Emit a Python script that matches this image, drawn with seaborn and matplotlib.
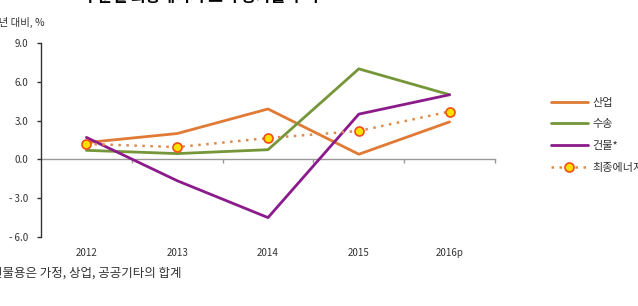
import pandas as pd
import numpy as np
import matplotlib
matplotlib.use("Agg")
import matplotlib.pyplot as plt
import seaborn as sns

years = ["2012", "2013", "2014", "2015", "2016p"]
industry = [1.3, 2.0, 3.9, 0.4, 2.9]
transport = [0.7, 0.45, 0.75, 7.0, 5.0]
building = [1.7, -1.65, -4.5, 3.5, 5.0]
final_energy = [1.2, 0.95, 1.65, 2.2, 3.7]

series_names = ["산업", "수송", "건물*", "최종에너지"]

sns.set_style("white")
plt.rcParams['font.family'] = ['Noto Sans CJK KR', 'DejaVu Sans']

df = pd.DataFrame({"pos": range(len(years)), "산업": industry, "수송": transport,
                   "건물*": building, "최종에너지": final_energy})

fig = plt.figure(figsize=(6.38, 3.06), dpi=100)
ax = fig.add_axes([41/638, 1-237/306, 454/638, 194/306])

sns.lineplot(data=df, x="pos", y="산업", ax=ax, color="#E07A35", lw=2, label="산업")
sns.lineplot(data=df, x="pos", y="수송", ax=ax, color="#76963A", lw=2, label="수송")
sns.lineplot(data=df, x="pos", y="건물*", ax=ax, color="#8B1A8B", lw=2, label="건물*")
sns.lineplot(data=df, x="pos", y="최종에너지", ax=ax, color="#E08A45", lw=1.8,
             linestyle=(0, (1, 2.2)), marker="o", markersize=6.5,
             markerfacecolor="#FFE000", markeredgecolor="#F04E14", markeredgewidth=1.2,
             label="최종에너지")

ax.set_xlim(-0.5, 4.5)
ax.set_ylim(-6, 9)
ax.set_yticks([9, 6, 3, 0, -3, -6])
ax.set_yticklabels(["9.0", "6.0", "3.0", "0.0", "- 3.0", "- 6.0"], fontsize=7, color="#333333")
ax.set_xticks(range(len(years)))
ax.set_xticklabels(years, fontsize=7, color="#333333")
ax.tick_params(axis="x", length=0, pad=8)
ax.tick_params(axis="y", length=3, width=1, color="#333333", pad=6, left=True)
ax.set_xlabel("")
ax.set_ylabel("")
for s in ["top", "right", "bottom"]:
    ax.spines[s].set_visible(False)
ax.spines["left"].set_color("#333333")
ax.spines["left"].set_linewidth(1)

# zero line with category boundary ticks
zero = ax.secondary_xaxis(6/15)
zero.set_xticks(np.arange(0.5, 4.6, 1))
zero.set_xticklabels([])
zero.tick_params(length=3, color="#999999", width=1)
zero.spines["bottom"].set_color("#999999")
zero.spines["bottom"].set_linewidth(1)

leg = ax.legend(loc="upper left", bbox_to_anchor=(545/638, 1-92/306),
                bbox_transform=fig.transFigure, frameon=False, fontsize=8,
                handlelength=3.4, labelspacing=1.05, handletextpad=0.4, borderpad=0)
for t in leg.get_texts():
    t.set_color("#333333")

fig.text(-11/638, 1-22/306, "전년 대비, %", fontsize=7.5, color="#333333", va="center")
fig.text(-9/638, 1-273/306, "건물용은 가정, 상업, 공공기타의 합계", fontsize=9, color="#333333", va="center")
fig.text(83/638, 1-2/306, "부문별 최종에너지 소비 증가율 추이", fontsize=11.5, fontweight="bold",
         color="black", va="baseline")

fig.savefig("out.png", dpi=100)
